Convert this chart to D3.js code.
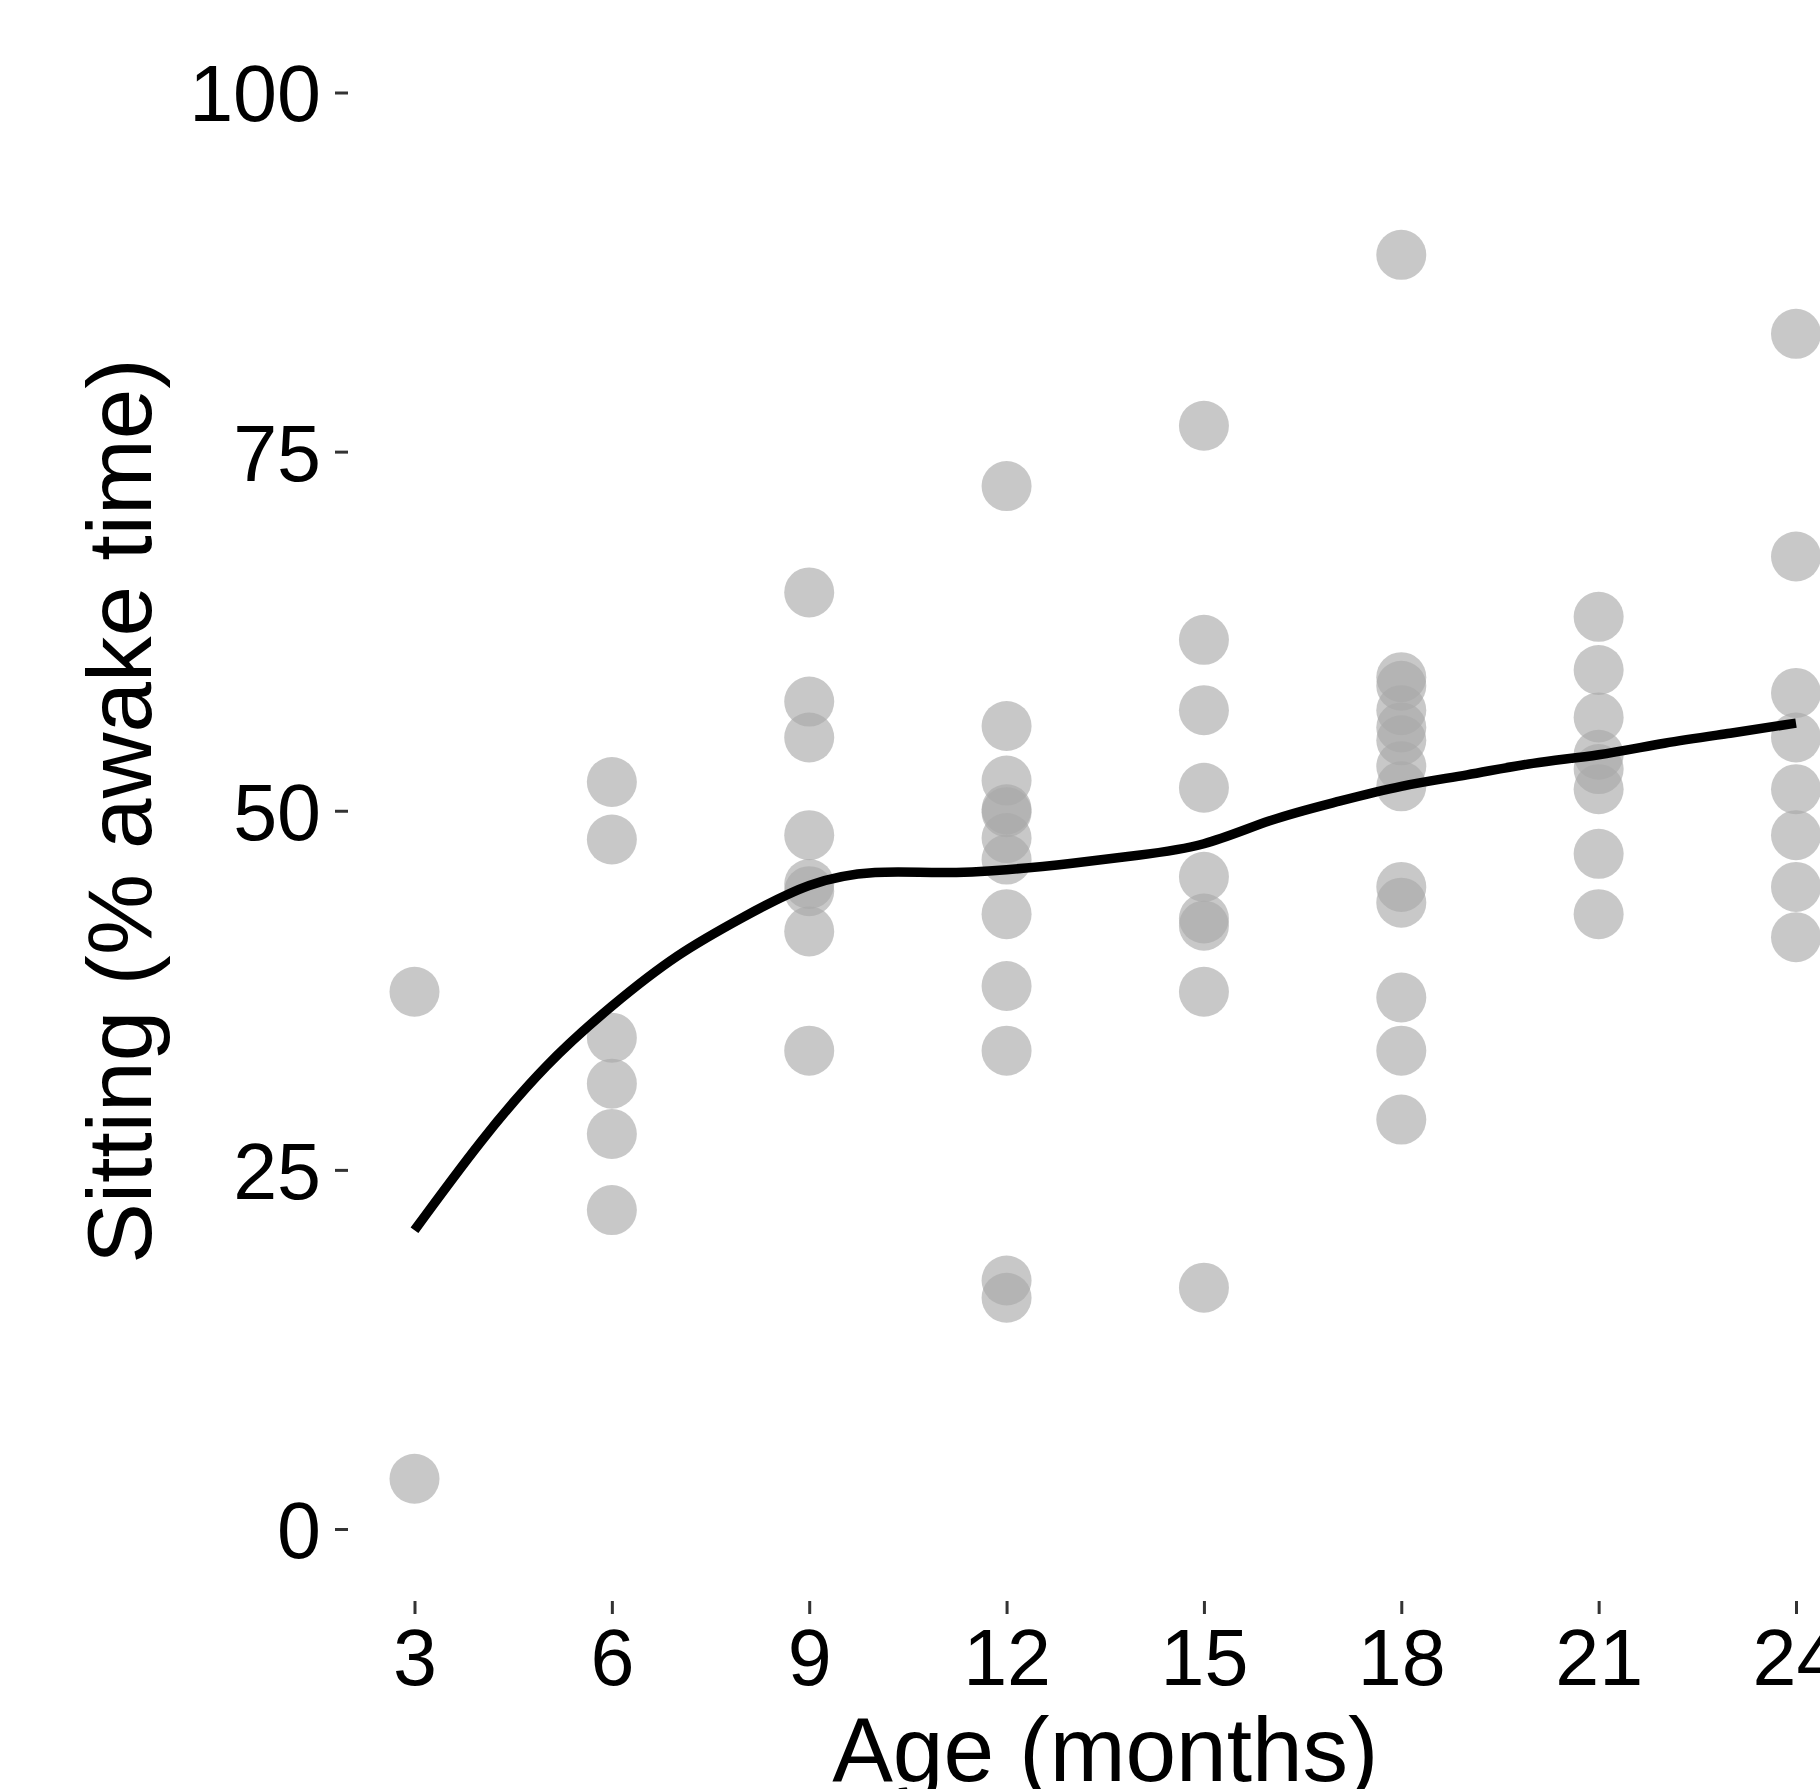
<!DOCTYPE html>
<html>
<head>
<meta charset="utf-8">
<script src="https://cdn.jsdelivr.net/npm/d3@7"></script>
<style>
  body { margin: 0; background: #fff; }
  text { font-family: "Liberation Sans", Arial, Helvetica, sans-serif; }
</style>
</head>
<body>
<script>
// 月龄（x轴刻度）
const months = [3, 6, 9, 12, 15, 18, 21, 24]
const yTicks = [0, 25, 50, 75, 100]

// 各月龄的观测值（% awake time）
const m3 = [37.4, 3.5]
const m6 = [52.0, 48.0, 34.2, 31.0, 27.5, 22.2]
const m9 = [65.2, 57.6, 55.1, 48.3, 44.9, 44.4, 41.6, 33.3]
const m12 = [72.6, 55.9, 52.1, 50.1, 49.9, 48.1, 46.6, 42.8, 37.8, 33.3, 17.3, 16.1]
const m15 = [76.8, 61.9, 57.0, 51.6, 45.4, 42.5, 42.0, 37.4, 16.8]
const m18 = [88.7, 59.3, 58.7, 57.0, 55.8, 54.9, 53.1, 51.7, 44.7, 43.6, 37.0, 33.3, 28.5]
const m21 = [63.5, 59.8, 56.5, 53.9, 52.9, 51.5, 47.0, 42.8]
const m24 = [83.2, 67.7, 58.2, 55.1, 51.5, 48.3, 44.7, 41.2]
const groups = [m3, m6, m9, m12, m15, m18, m21, m24]

// 平滑曲线
const smoothX = [3, 4, 5, 6, 7, 8, 9, 10, 11, 12, 13, 14, 15, 16, 17, 18, 19, 20, 21, 22, 23, 24]
const smoothY = [20.8, 26.9, 32.2, 36.4, 39.9, 42.6, 44.8, 45.7, 45.7, 45.9, 46.35, 46.9, 47.7, 49.3, 50.6, 51.7, 52.5, 53.3, 53.9, 54.7, 55.4, 56.1]

const W = 1820, H = 1789

const svg = d3.select('body')
  .append('svg')
  .attr('width', W)
  .attr('height', H)

svg.append('rect')
  .attr('width', W)
  .attr('height', H)
  .attr('fill', '#fff')

const xScale = d3.scaleLinear()
  .domain([3, 24])
  .range([414.5, 1796])

const yScale = d3.scaleLinear()
  .domain([0, 100])
  .range([1529, 92.5])

// y轴
const yAxis = svg.append('g')
  .attr('transform', 'translate(348,0)')
  .call(d3.axisLeft(yScale).tickValues(yTicks).tickSize(13).tickPadding(14))
yAxis.select('.domain').remove()
yAxis.selectAll('line').attr('stroke', '#333').attr('stroke-width', 3)
yAxis.selectAll('text')
  .attr('font-size', 79)
  .attr('fill', '#000')
  .attr('dy', '0.36em')

// x轴
const xAxis = svg.append('g')
  .attr('transform', 'translate(0,1601)')
  .call(d3.axisBottom(xScale).tickValues(months).tickSize(13).tickPadding(14))
xAxis.select('.domain').remove()
xAxis.selectAll('line').attr('stroke', '#333').attr('stroke-width', 3)
xAxis.selectAll('text')
  .attr('font-size', 79)
  .attr('fill', '#000')
  .attr('dy', '0.72em')

// 散点
const points = []
groups.forEach((vals, i) => vals.forEach(v => points.push({ m: months[i], v })))

svg.append('g')
  .selectAll('circle')
  .data(points)
  .enter()
  .append('circle')
  .attr('cx', d => xScale(d.m))
  .attr('cy', d => yScale(d.v))
  .attr('r', 25)
  .attr('fill', '#a9a9a9')
  .attr('fill-opacity', 0.64)

// 平滑线
const line = d3.line()
  .x((d, i) => xScale(smoothX[i]))
  .y(d => yScale(d))
  .curve(d3.curveNatural)

svg.append('path')
  .datum(smoothY)
  .attr('d', line)
  .attr('fill', 'none')
  .attr('stroke', '#000')
  .attr('stroke-width', 9.5)

// 轴标题
svg.append('text')
  .attr('x', xScale(13.5))
  .attr('y', 1781)
  .attr('text-anchor', 'middle')
  .attr('font-size', 91)
  .text('Age (months)')

svg.append('text')
  .attr('transform', 'translate(151,811) rotate(-90)')
  .attr('text-anchor', 'middle')
  .attr('font-size', 91)
  .text('Sitting (% awake time)')
</script>
</body>
</html>
